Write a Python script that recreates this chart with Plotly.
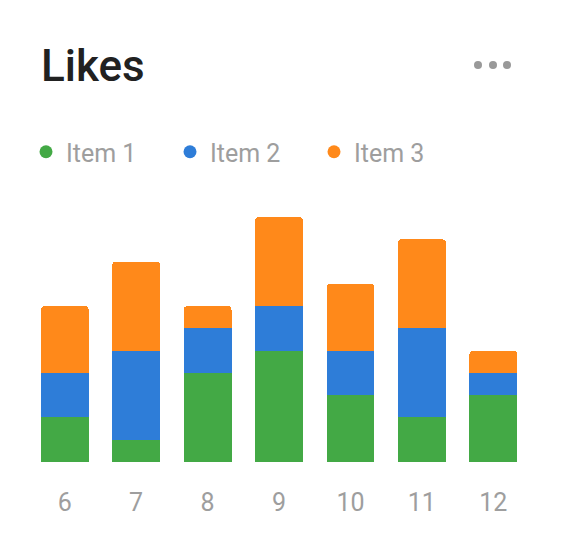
import plotly.graph_objects as go

categories = ["6", "7", "8", "9", "10", "11", "12"]
item1 = [2, 1, 4, 5, 3, 2, 3]
item2 = [2, 4, 2, 2, 2, 4, 1]
item3 = [3, 4, 1, 4, 3, 4, 1]
series_names = ["Item 1", "Item 2", "Item 3"]
colors = ["#43A945", "#2E7DD8", "#FF891A"]

W, H = 545, 532
L, R, T, B = 21, 24, 209, 78

fig = go.Figure()
for name, vals, c in zip(series_names, [item1, item2, item3], colors):
    fig.add_trace(go.Bar(x=categories, y=vals, name=name, marker=dict(color=c, line=dict(width=0)),
                         showlegend=False, legendgroup=name))
for name, c in zip(series_names, colors):
    fig.add_trace(go.Scatter(x=[None], y=[None], mode="markers", name=name, legendgroup=name,
                             marker=dict(color=c, size=13, symbol="circle")))

fig.update_layout(
    width=W, height=H,
    margin=dict(l=L, r=R, t=T, b=B),
    paper_bgcolor="white", plot_bgcolor="white",
    barmode="stack", bargap=0.33, barcornerradius=4,
    font=dict(family="Roboto", color="#9E9E9E"),
    title=dict(text="Likes", x=33/W, xref="container", xanchor="left",
               y=1-58/H, yref="container", yanchor="middle",
               font=dict(family="Roboto", size=44, weight=500, color="#212121")),
    legend=dict(orientation="h", x=18/W, xref="container", xanchor="left",
                y=1-144/H, yref="container", yanchor="middle",
                font=dict(size=25, color="#9E9E9E"), entrywidth=99, entrywidthmode="pixels",
                itemclick=False),
    xaxis=dict(showgrid=False, zeroline=False, showline=False, ticks="outside", ticklen=18,
               tickcolor="rgba(0,0,0,0)", tickfont=dict(size=25, color="#9E9E9E"), fixedrange=True),
    yaxis=dict(visible=False, range=[0, 11], fixedrange=True),
    showlegend=True,
)

for cx in [470, 485, 499]:
    fig.add_shape(type="circle", xref="paper", yref="paper", xsizemode="pixel", ysizemode="pixel",
                  xanchor=(cx-L)/(W-L-R), yanchor=(H-B-57)/(H-T-B),
                  x0=-4, x1=4, y0=-4, y1=4, fillcolor="#999999", line=dict(width=0))

fig.write_html("out.html")
